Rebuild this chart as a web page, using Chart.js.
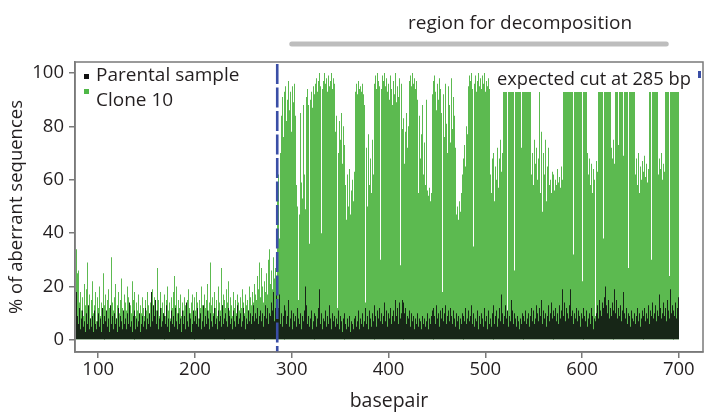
<!DOCTYPE html>
<html>
<head>
<meta charset="utf-8">
<script src="https://cdn.jsdelivr.net/npm/chart.js@4.4.0/dist/chart.umd.min.js"></script>
<style>
html, body { margin: 0; padding: 0; background: #fff; }
</style>
</head>
<body>
<canvas id="chartCanvas" width="705" height="413"></canvas>
<script>
// first basepair of the trace, cut site, decomposition window
const firstBp = 78;
const cutSite = 285;
const regionStart = 300;
const regionEnd = 687;

const xTicks = [100, 200, 300, 400, 500, 600, 700];
const yTicks = [0, 20, 40, 60, 80, 100];

// Clone 10, bp 78-284
const clonePre = [
  34, 25, 26, 14, 18, 11, 16, 9, 21, 13,
  19, 29, 12, 17, 8, 15, 22, 10, 13, 18,
  7, 16, 12, 20, 9, 14, 11, 25, 13, 8,
  17, 10, 15, 19, 12, 9, 31, 14, 11, 16,
  21, 8, 13, 18, 10, 15, 23, 12, 9, 17,
  14, 11, 20, 16, 8, 13, 10, 22, 15, 12,
  18, 9, 14, 11, 17, 7, 13, 10, 16, 12,
  9, 15, 11, 18, 13, 8, 14, 12, 19, 10,
  16, 13, 11, 27, 15, 9, 18, 12, 14, 10,
  17, 13, 9, 15, 20, 11, 14, 8, 16, 12,
  18, 24, 13, 20, 10, 15, 12, 17, 9, 14,
  11, 16, 13, 8, 15, 19, 12, 10, 14, 17,
  9, 13, 16, 11, 18, 14, 8, 15, 12, 20,
  13, 10, 17, 12, 15, 21, 11, 14, 29, 13,
  16, 10, 18, 12, 15, 9, 20, 14, 11, 27,
  13, 17, 10, 15, 12, 19, 14, 22, 11, 16,
  13, 9, 18, 12, 15, 10, 17, 14, 11, 16,
  12, 19, 14, 10, 17, 13, 15, 11, 20, 16,
  13, 18, 14, 21, 12, 17, 15, 24, 19, 29,
  16, 27, 20, 14, 22, 18, 25, 17, 30, 34,
  21, 26, 19, 31, 23, 27, 20
];

// Clone 10, bp 285-700
const clonePost = [
  55, 62, 38, 70, 84, 91, 76, 93, 88, 95,
  82, 90, 97, 86, 93, 78, 95, 89, 96, 84,
  58, 50, 15, 47, 85, 59, 53, 88, 62, 49,
  91, 94, 88, 36, 90, 93, 87, 95, 89, 92,
  96, 98, 93, 97, 100, 95, 40, 94, 97, 100,
  96, 98, 93, 99, 95, 97, 100, 94, 98, 96,
  78, 84, 12, 70, 82, 75, 85, 66, 80, 73,
  68, 58, 45, 62, 50, 64, 47, 56, 60, 52,
  63, 93, 96, 92, 97, 94, 95, 93, 96, 92,
  88, 14, 72, 50, 77, 58, 68, 55, 75, 62,
  90, 96, 99, 94, 100, 97, 95, 30, 94, 99,
  97, 100, 95, 98, 93, 96, 90, 99, 94, 88,
  97, 92, 100, 89, 95, 91, 98, 28, 96, 79,
  70, 83, 66, 78, 85, 72, 80, 97, 99, 95,
  100, 96, 98, 94, 97, 90, 55, 84, 68, 77,
  88, 62, 74, 58, 90, 56, 54, 57, 52, 55,
  92, 97, 88, 99, 93, 86, 96, 90, 98, 94,
  85, 18, 92, 76, 96, 81, 70, 95, 88, 74,
  98, 79, 91, 84, 72, 47, 50, 45, 52, 48,
  55, 62, 58, 68, 73, 65, 80, 77, 95, 99,
  97, 100, 94, 35, 96, 99, 93, 97, 100, 95,
  98, 94, 99, 96, 100, 93, 97, 95, 98, 94,
  62, 55, 68, 58, 70, 52, 65, 60, 72, 57,
  68, 75, 63, 70, 96, 98, 94, 97, 8, 99,
  95, 98, 93, 100, 96, 26, 99, 97, 93, 98,
  96, 100, 72, 94, 68, 97, 95, 99, 93, 98,
  96, 94, 97, 62, 70, 58, 75, 66, 72, 60,
  68, 96, 55, 78, 48, 70, 62, 75, 52, 65,
  72, 58, 60, 55, 63, 57, 62, 56, 60, 58,
  64, 59, 61, 57, 65, 60, 94, 97, 99, 95,
  98, 93, 100, 96, 94, 99, 32, 95, 98, 93,
  100, 96, 94, 99, 97, 22, 98, 94, 100, 96,
  97, 70, 62, 68, 58, 66, 55, 64, 60, 9,
  67, 63, 95, 98, 94, 100, 96, 38, 93, 97,
  95, 98, 94, 100, 96, 72, 68, 75, 70, 66,
  94, 97, 99, 73, 95, 98, 94, 100, 69, 96,
  98, 93, 97, 27, 99, 94, 100, 96, 93, 97,
  62, 68, 58, 70, 55, 65, 60, 67, 57, 63,
  69, 61, 66, 59, 64, 95, 98, 30, 99, 96,
  100, 93, 97, 95, 62, 68, 64, 70, 60, 66,
  63, 96, 94, 99, 97, 24, 98, 95, 100, 94,
  97, 93, 99, 95, 98, 96
];

// Parental sample, bp 78-284
const parentalPre = [
  18, 9, 6, 12, 4, 8, 11, 5, 7, 3,
  10, 6, 13, 4, 8, 5, 9, 3, 11, 6,
  4, 7, 10, 5, 8, 3, 12, 6, 9, 4,
  7, 11, 5, 8, 3, 13, 6, 9, 4, 10,
  6, 8, 3, 12, 5, 9, 7, 4, 11, 6,
  8, 4, 10, 6, 14, 5, 7, 3, 9, 6,
  11, 4, 8, 5, 7, 10, 3, 6, 9, 5,
  7, 12, 4, 8, 6, 10, 5, 18, 7, 13,
  9, 15, 6, 11, 4, 8, 12, 5, 7, 10,
  4, 9, 6, 13, 5, 8, 3, 7, 11, 6,
  9, 5, 12, 7, 4, 10, 6, 8, 3, 11,
  6, 9, 4, 14, 7, 5, 10, 8, 3, 6,
  11, 7, 4, 9, 6, 12, 5, 8, 10, 4,
  7, 13, 5, 9, 6, 11, 8, 4, 10, 7,
  5, 9, 12, 6, 8, 4, 11, 7, 9, 5,
  13, 6, 8, 4, 10, 7, 5, 12, 9, 6,
  8, 4, 11, 7, 5, 9, 13, 6, 8, 10,
  5, 7, 12, 9, 4, 8, 6, 11, 7, 10,
  6, 9, 13, 7, 5, 10, 8, 12, 6, 9,
  11, 7, 10, 5, 9, 13, 8, 12, 6, 10,
  9, 14, 11, 18, 7, 12, 19
];

// Parental sample, bp 285-700
const parentalPost = [
  8, 12, 17, 6, 10, 5, 9, 13, 7, 11,
  6, 9, 15, 5, 8, 11, 4, 10, 7, 9,
  5, 12, 8, 6, 10, 4, 9, 7, 11, 20,
  13, 6, 9, 5, 8, 11, 4, 7, 10, 6,
  9, 5, 8, 12, 19, 6, 10, 4, 8, 7,
  11, 5, 9, 6, 13, 8, 4, 10, 7, 9,
  5, 8, 6, 11, 4, 9, 7, 3, 8, 5,
  10, 6, 4, 8, 5, 9, 3, 7, 6, 4,
  8, 9, 5, 7, 11, 4, 8, 6, 10, 5,
  7, 12, 6, 9, 4, 11, 8, 5, 10, 7,
  13, 6, 9, 5, 11, 8, 12, 7, 10, 6,
  9, 14, 7, 11, 5, 10, 8, 12, 6, 9,
  11, 7, 15, 9, 12, 6, 14, 8, 10, 15,
  7, 14, 10, 12, 6, 9, 8, 11, 5, 10,
  7, 9, 4, 8, 6, 10, 5, 8, 7, 4,
  9, 6, 8, 5, 7, 10, 4, 8, 6, 9,
  11, 7, 12, 9, 6, 13, 8, 10, 5, 11,
  8, 12, 7, 10, 13, 6, 9, 11, 7, 12,
  9, 6, 11, 8, 5, 10, 7, 9, 4, 8,
  6, 10, 5, 9, 7, 12, 6, 8, 11, 7,
  9, 13, 6, 10, 5, 8, 7, 11, 4, 9,
  6, 10, 8, 5, 12, 7, 9, 4, 11, 6,
  8, 5, 10, 7, 13, 6, 9, 11, 5, 8,
  12, 7, 17, 10, 6, 9, 13, 8, 11, 5,
  9, 7, 15, 11, 6, 10, 8, 5, 9, 7,
  4, 8, 6, 10, 5, 9, 7, 11, 6, 8,
  10, 5, 9, 12, 7, 11, 6, 8, 13, 10,
  7, 12, 9, 15, 6, 11, 8, 10, 5, 9,
  13, 7, 10, 14, 8, 11, 6, 9, 12, 7,
  10, 6, 13, 8, 11, 19, 9, 14, 7, 12,
  10, 8, 13, 19, 9, 11, 6, 10, 8, 12,
  7, 11, 9, 5, 10, 8, 12, 6, 9, 7,
  11, 5, 8, 10, 6, 12, 9, 4, 8, 7,
  10, 13, 8, 15, 11, 9, 14, 12, 16, 20,
  13, 10, 15, 8, 12, 9, 14, 7, 11, 19,
  10, 15, 8, 12, 9, 13, 7, 11, 18, 10,
  8, 12, 6, 10, 9, 5, 11, 8, 7, 10,
  6, 9, 12, 7, 10, 5, 8, 11, 6, 9,
  12, 7, 10, 8, 13, 6, 11, 9, 14, 8,
  10, 13, 7, 11, 9, 17, 12, 8, 10, 14,
  9, 12, 7, 15, 11, 8, 19, 10, 13, 7,
  11, 9, 14, 8, 12, 16
];

const fuente = "'Open Sans', sans-serif";
const textColor = '#231f20';
const frameColor = '#7a7a7a';
const cutColor = '#3a4ea6';

function toPoints(values) {
  return values.map((v, i) => ({ x: firstBp + i, y: v }));
}

// bars are ~1px wide: snap them to whole pixel columns so the fill stays solid
const snapPlugin = {
  id: 'snap',
  beforeDatasetsDraw(chart) {
    chart.getSortedVisibleDatasetMetas().forEach(meta => {
      meta.data.forEach(el => {
        el.x = Math.floor(el.x) + 0.5;
        el.width = 1;
      });
    });
  }
};

const decorPlugin = {
  id: 'decor',
  afterDatasetsDraw(chart) {
    const { ctx, chartArea: a, scales: { x } } = chart;
    const cx = x.getPixelForValue(cutSite);
    ctx.save();
    ctx.strokeStyle = cutColor;
    ctx.lineWidth = 2.6;
    ctx.setLineDash([20, 3.5]);
    ctx.beginPath();
    ctx.moveTo(cx, a.top + 2);
    ctx.lineTo(cx, a.bottom);
    ctx.stroke();
    ctx.restore();
  },
  afterDraw(chart) {
    const { ctx, chartArea: a, scales: { x } } = chart;
    ctx.save();

    // label box for the cut site (hides the bar tops under it)
    ctx.fillStyle = '#fff';
    ctx.fillRect(494, a.top + 1, a.right - 494, 29);
    ctx.fillStyle = cutColor;
    ctx.fillRect(698, 71, 3, 7);
    ctx.fillStyle = textColor;
    ctx.font = '18.3px ' + fuente;
    ctx.textBaseline = 'alphabetic';
    ctx.textAlign = 'left';
    ctx.fillText('expected cut at ' + cutSite + ' bp', 497, 85);

    // legend
    ctx.font = '19px ' + fuente;
    ctx.fillStyle = '#111';
    ctx.fillRect(84, 74, 5, 5);
    ctx.fillStyle = '#4fb847';
    ctx.fillRect(84, 89, 5, 5);
    ctx.fillStyle = textColor;
    ctx.fillText(chart.data.datasets[0].label, 96, 81);
    ctx.fillText(chart.data.datasets[1].label, 96, 106);

    // frame
    ctx.strokeStyle = frameColor;
    ctx.lineWidth = 1.5;
    ctx.strokeRect(a.left, a.top, a.right - a.left, a.bottom - a.top);

    // region for decomposition
    ctx.strokeStyle = '#bdbdbd';
    ctx.lineWidth = 5;
    ctx.lineCap = 'round';
    ctx.beginPath();
    ctx.moveTo(x.getPixelForValue(regionStart), 44);
    ctx.lineTo(x.getPixelForValue(regionEnd), 44);
    ctx.stroke();
    ctx.font = '19px ' + fuente;
    ctx.textAlign = 'center';
    ctx.fillText('region for decomposition', 520, 29);

    ctx.restore();
  }
};

const ctx = document.getElementById('chartCanvas').getContext('2d');

const chart = new Chart(ctx, {
  type: 'bar',
  data: {
    datasets: [{
      label: 'Parental sample',
      data: toPoints(parentalPre.concat(parentalPost)),
      backgroundColor: '#172617',
      grouped: false,
      barThickness: 1,
      inflateAmount: 0,
    }, {
      label: 'Clone 10',
      data: toPoints(clonePre.concat(clonePost)),
      backgroundColor: '#5cba50',
      grouped: false,
      barThickness: 1,
      inflateAmount: 0,
    }]
  },
  options: {
    responsive: false,
    animation: false,
    layout: { padding: { top: 62, right: 2, left: 0, bottom: 0 } },
    plugins: {
      legend: { display: false },
      tooltip: { enabled: false },
    },
    scales: {
      x: {
        type: 'linear',
        min: 76,
        max: 725,
        offset: false,
        afterFit(scale) { scale.height = 61; },
        afterBuildTicks(scale) { scale.ticks = xTicks.map(v => ({ value: v })); },
        grid: { offset: false, drawOnChartArea: false, drawTicks: true, tickLength: 6, color: frameColor, lineWidth: 1.5 },
        border: { display: true, color: frameColor, width: 1.5 },
        ticks: {
          autoSkip: false, maxRotation: 0, padding: 1, color: textColor,
          font: { family: fuente, size: 18.5 },
        },
        title: {
          display: true, text: 'basepair', color: textColor,
          font: { family: fuente, size: 19.5 },
          padding: { top: 0, bottom: 0 },
        },
      },
      y: {
        min: -4.5,
        max: 104.1,
        afterFit(scale) { scale.width = 75; },
        afterBuildTicks(scale) { scale.ticks = yTicks.map(v => ({ value: v })); },
        grid: { drawOnChartArea: false, drawTicks: true, tickLength: 6, color: frameColor, lineWidth: 1.5 },
        border: { display: true, color: frameColor, width: 1.5 },
        ticks: {
          padding: 5, color: textColor,
          font: { family: fuente, size: 18.5 },
        },
        title: {
          display: true, text: '% of aberrant sequences', color: textColor,
          font: { family: fuente, size: 18.5 },
          padding: { top: 6, bottom: 0 },
        },
      },
    },
  },
  plugins: [snapPlugin, decorPlugin],
});
</script>
</body>
</html>
